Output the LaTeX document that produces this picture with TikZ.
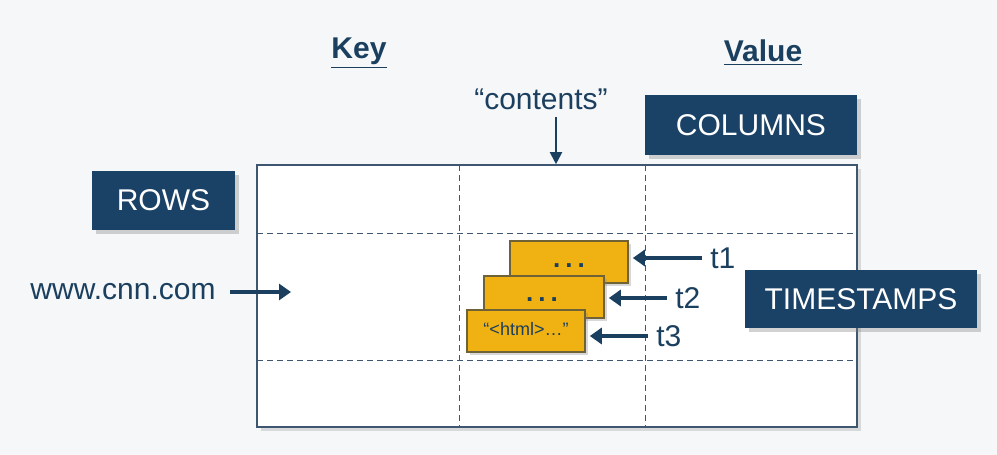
\documentclass[tikz,border=0pt]{standalone}
\usepackage{fontspec}
\setmainfont{Liberation Sans}
\usetikzlibrary{arrows.meta,positioning,shadows}
\definecolor{ink}{HTML}{1B3F5E}
\definecolor{navyfill}{HTML}{1A4166}
\definecolor{cellfill}{HTML}{F0B112}
\definecolor{celldraw}{HTML}{6E6236}
\definecolor{bgfill}{HTML}{F5F7F9}
\definecolor{gridline}{HTML}{3F5670}
\tikzset{
  tagbox/.style={fill=navyfill, text=white, font=\fontsize{15}{18}\selectfont, align=center, drop shadow={opacity=0.35, shadow xshift=2pt, shadow yshift=-2pt}},
  cell/.style={draw=celldraw, fill=cellfill, thick, minimum width=59pt, minimum height=21pt, inner sep=0pt, drop shadow={opacity=0.3, shadow xshift=1.5pt, shadow yshift=-1.5pt}},
  lbl/.style={text=ink, font=\fontsize{15}{18}\selectfont, inner sep=1pt},
  dots/.style={text=ink, font=\bfseries\fontsize{13}{14}\selectfont},
  arrow/.style={-{Triangle[length=6pt, width=8pt]}, line width=1.6pt, draw=ink},
  thinarrow/.style={-{Triangle[length=6pt, width=6pt]}, line width=1pt, draw=ink},
  cut/.style={densely dashed, draw=gridline, line width=0.5pt}
}

\begin{document}
\begin{tikzpicture}[x=0.5pt, y=-0.5pt]
  \fill[bgfill] (0,0) rectangle (997,455);
  \useasboundingbox (0,0) rectangle (997,455);

  % table
  \node[draw=gridline, fill=white, line width=0.8pt, minimum width=300pt, minimum height=131pt, inner sep=0pt,
        drop shadow={opacity=0.25, shadow xshift=2pt, shadow yshift=-2pt}] (grid) at (557,296) {};
  \draw[cut] (459,165) -- (459,427);
  \draw[cut] (645,165) -- (645,427);
  \draw[cut] (257,233) -- (857,233);
  \draw[cut] (257,360) -- (857,360);

  % headers
  \node[lbl, font=\fontsize{15}{18}\selectfont\bfseries] (key) at (359,53) {\underline{Key}};
  \node[lbl, font=\fontsize{15}{18}\selectfont\bfseries] (value) at (763,53) {\underline{Value}};

  \node[tagbox, minimum width=71.5pt, minimum height=29.5pt] (rows) at (163.5,200.5) {ROWS};
  \node[tagbox, minimum width=106pt, minimum height=30pt] (columns) at (751,125) {COLUMNS};
  \node[tagbox, minimum width=116pt, minimum height=29pt] (stamps) at (861,299) {TIMESTAMPS};

  \node[lbl] (contents) at (541,99) {“contents”};
  \coordinate (drop) at (556,117);
  \draw[thinarrow] (drop) -- (drop |- grid.north);

  \node[lbl] (cnn) at (123,292) {www.cnn.com};
  \coordinate (rowkey) at (291,292);
  \draw[arrow] ([xshift=6pt]cnn.east) -- (rowkey);

  % versions
  \node[cell] (ver1) at (569,262) {};
  \node[dots] (dots1) at (569,266) {.\hspace{2.5pt}.\hspace{2.5pt}.};
  \node[cell, minimum width=60pt] (ver2) at (544,297) {};
  \node[dots] (dots2) at (542,300) {.\hspace{2.5pt}.\hspace{2.5pt}.};
  \node[cell] (ver3) at (526,331) {};
  \node[font=\fontsize{9}{10}\selectfont, text=ink] (html) at (526,329) {“<html>…”};

  \node[lbl, anchor=west] (t1) at (708,258) {t1};
  \node[lbl, anchor=west] (t2) at (673,298) {t2};
  \node[lbl, anchor=west] (t3) at (654,336) {t3};
  \draw[arrow] ([xshift=-3pt]t1.west) -- ([xshift=2pt]t1.west -| ver1.east);
  \draw[arrow] ([xshift=-3pt]t2.west) -- ([xshift=2pt]t2.west -| ver2.east);
  \draw[arrow] ([xshift=-3pt]t3.west) -- ([xshift=2pt]t3.west -| ver3.east);
\end{tikzpicture}
\end{document}
